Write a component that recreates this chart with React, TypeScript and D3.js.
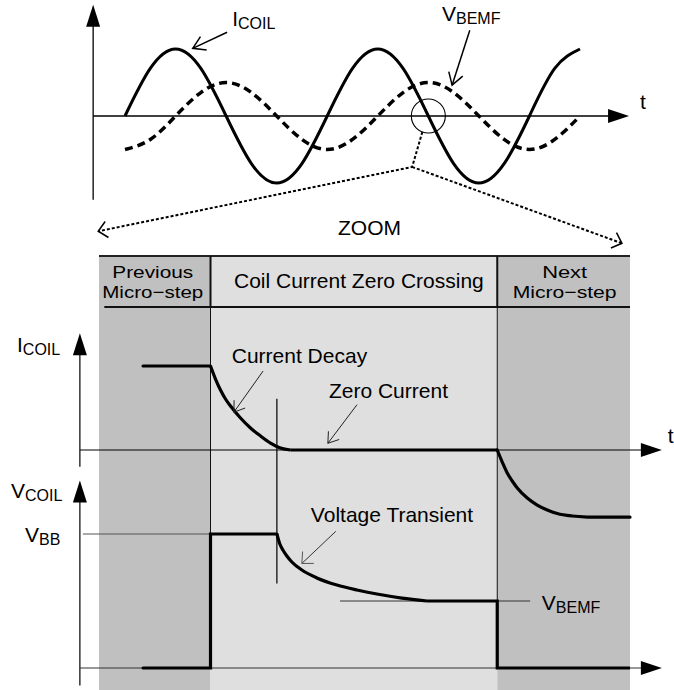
import React from 'react';
import * as d3 from 'd3';

const W = 674;
const H = 690;
const FONT = '"Liberation Sans", Arial, Helvetica, sans-serif';

// top sketch: samples every eighth of a period
const phaseSteps = [0, 0.5, 1, 1.5, 2, 2.5, 3, 3.5, 4, 4.5, 5, 5.5, 6, 6.5, 7, 7.5, 8, 8.5, 9];
const coilCurrentWave = [0, 0.71, 1, 0.71, 0, -0.71, -1, -0.71, 0, 0.71, 1, 0.71, 0, -0.71, -1, -0.71, 0, 0.71, 1];
const bemfWave = [-0.5, -0.35, 0, 0.35, 0.5, 0.35, 0, -0.35, -0.5, -0.35, 0, 0.35, 0.5, 0.35, 0, -0.35, -0.5, -0.35, 0];
const zoomPhase = 6; // zero crossing that gets zoomed

// lower sketch: time as % of the zoom window
const regionBounds = [0, 21, 75, 100];
const regionShade = ['#c0c0c0', '#dfdfdf', '#c0c0c0'];
const regionLabels = [['Previous', 'Micro\u2212step'], ['Coil Current Zero Crossing'], ['Next', 'Micro\u2212step']];

const currentBefore: [number, number][] = [[8.3, 1], [21, 1]];
const currentDecay: [number, number][] = [
  [21, 1], [21.94, 0.845], [22.88, 0.714], [23.82, 0.607], [24.77, 0.524], [26.65, 0.381],
  [28.53, 0.262], [30.42, 0.167], [32.3, 0.083], [34.18, 0.024], [36.07, 0],
];
const currentZero: [number, number][] = [[36.07, 0], [75, 0]];
const currentNext: [number, number][] = [
  [75, 0], [75.94, -0.143], [76.88, -0.274], [77.82, -0.369], [78.77, -0.452], [80.65, -0.571],
  [82.53, -0.655], [84.42, -0.714], [86.3, -0.756], [89.12, -0.786], [91.95, -0.798], [93.83, -0.8], [100, -0.8],
];

const voltageStep: [number, number][] = [[8.3, 0], [21, 0], [21, 1], [33.5, 1]];
const voltageTransient: [number, number][] = [
  [33.5, 1], [34.06, 0.925], [34.63, 0.881], [35.38, 0.836], [36.32, 0.791], [38.21, 0.731],
  [41.03, 0.672], [44.8, 0.619], [48.57, 0.582], [52.33, 0.552], [57.04, 0.522], [61.75, 0.5],
];
const voltageTail: [number, number][] = [[61.75, 0.5], [75, 0.5], [75, 0], [100, 0]];

const vbbLevel = 1;
const vbemfLevel = 0.5;
const zeroCrossTime = 33.5;

// open arrow head at (x2,y2) coming from (x1,y1)
const openHead = (x1: number, y1: number, x2: number, y2: number, len = 13, ang = 0.6) => {
  const a = Math.atan2(y1 - y2, x1 - x2);
  const p1 = [x2 + len * Math.cos(a - ang), y2 + len * Math.sin(a - ang)];
  const p2 = [x2 + len * Math.cos(a + ang), y2 + len * Math.sin(a + ang)];
  return `M${p1[0]},${p1[1]}L${x2},${y2}L${p2[0]},${p2[1]}`;
};

const upArrow = (x: number, y: number) => `M${x},${y}L${x - 7},${y + 22}L${x + 7},${y + 22}Z`;
const rightArrow = (x: number, y: number) => `M${x},${y}L${x - 21},${y - 7}L${x - 21},${y + 7}Z`;

const Sub = ({ x, y, main, sub }: { x: number; y: number; main: string; sub: string }) => (
  <text x={x} y={y} fontSize={21} fontFamily={FONT} fill="#000">
    <tspan>{main}</tspan>
    <tspan fontSize={16} dy={3}>{sub}</tspan>
  </text>
);

export default function App() {
  const topX = d3.scaleLinear().domain([0, 9]).range([125, 580]);
  const topY = d3.scaleLinear().domain([-1, 1]).range([183, 49]);
  const lowX = d3.scaleLinear().domain([0, 100]).range([99, 630]);
  const iY = d3.scaleLinear().domain([0, 1]).range([450, 366]);
  const vY = d3.scaleLinear().domain([0, 1]).range([668, 534]);

  const wave = d3
    .line<number>()
    .x((_, i) => topX(phaseSteps[i]))
    .y((d) => topY(d))
    .curve(d3.curveNatural);

  const iLine = d3.line<[number, number]>().x((d) => lowX(d[0])).y((d) => iY(d[1]));
  const iCurve = d3.line<[number, number]>().x((d) => lowX(d[0])).y((d) => iY(d[1])).curve(d3.curveMonotoneX);
  const vLine = d3.line<[number, number]>().x((d) => lowX(d[0])).y((d) => vY(d[1]));
  const vCurve = d3.line<[number, number]>().x((d) => lowX(d[0])).y((d) => vY(d[1])).curve(d3.curveMonotoneX);

  const bandTop = 256;
  const bandBottom = 307;

  // top axes
  const tAx0 = topX(-0.63);
  const tAx1 = topX(9.97);
  const tAxY = topY(0);
  const tYTop = topY(1.66);
  const tYBot = topY(-1.25);

  // zoom guide lines
  const cx = topX(zoomPhase);
  const cy = topY(0);
  const vertex = [topX(5.68), topY(-0.76)];
  const zl = [topX(-0.53), topY(-1.72)];
  const zr = [topX(9.83), topY(-1.9)];

  // lower axes
  const axL = lowX(-3.6);
  const axR = lowX(106);

  const ann = {
    icoilTop: { tx: topX(2.12), ty: topY(1.34), a: [topX(2.02), topY(1.25), topX(1.34), topY(1.01)] },
    bemfTop: { tx: topX(6.27), ty: topY(1.42), a: [topX(6.82), topY(1.28), topX(6.47), topY(0.46)] },
    decay: { tx: lowX(25), ty: iY(1.04), a: [lowX(30.9), iY(0.94), lowX(25.4), iY(0.45)] },
    zero: { tx: lowX(43.3), ty: iY(0.62), a: [lowX(48.6), iY(0.54), lowX(43.1), iY(0.08)] },
    trans: { tx: lowX(39.9), ty: vY(1.09), a: [lowX(44.6), vY(1.02), lowX(38.2), vY(0.78)] },
  };

  const arrowPath = (a: number[]) => `M${a[0]},${a[1]}L${a[2]},${a[3]}`;

  return (
    <svg
      width={W}
      height={H}
      viewBox={`0 0 ${W} ${H}`}
      style={{ position: 'absolute', left: 0, top: 0, background: '#fff' }}
      fontFamily={FONT}
    >
      {/* ---------- top sketch ---------- */}
      <line x1={tAx0} x2={tAx0} y1={tYTop + 20} y2={tYBot} stroke="#000" strokeWidth={1.3} />
      <path d={upArrow(tAx0, tYTop)} fill="#000" />
      <line x1={tAx0} x2={tAx1 - 18} y1={tAxY} y2={tAxY} stroke="#000" strokeWidth={1.3} />
      <path d={rightArrow(tAx1, tAxY)} fill="#000" />
      <text x={tAx1 + 11} y={tAxY - 7} fontSize={21}>t</text>

      <path d={wave(coilCurrentWave) ?? ''} fill="none" stroke="#000" strokeWidth={3} />
      <path d={wave(bemfWave) ?? ''} fill="none" stroke="#000" strokeWidth={3.5} strokeDasharray="8,5" />

      <circle cx={cx} cy={cy} r={17} fill="none" stroke="#000" strokeWidth={1.1} />
      <path
        d={`M${cx - 6},${cy + 16}L${vertex[0]},${vertex[1]}L${zl[0]},${zl[1]}M${vertex[0]},${vertex[1]}L${zr[0]},${zr[1]}`}
        fill="none"
        stroke="#000"
        strokeWidth={2}
        strokeDasharray="3,2"
      />
      <path d={openHead(vertex[0], vertex[1], zl[0], zl[1], 12, 0.75)} fill="none" stroke="#000" strokeWidth={1.5} />
      <path d={openHead(vertex[0], vertex[1], zr[0], zr[1], 12, 0.75)} fill="none" stroke="#000" strokeWidth={1.5} />
      <text x={338} y={235} fontSize={21}>ZOOM</text>

      <Sub x={ann.icoilTop.tx} y={ann.icoilTop.ty} main="I" sub="COIL" />
      <path d={arrowPath(ann.icoilTop.a)} stroke="#000" strokeWidth={1.5} />
      <path d={openHead(ann.icoilTop.a[0], ann.icoilTop.a[1], ann.icoilTop.a[2], ann.icoilTop.a[3], 14, 0.55)} fill="none" stroke="#000" strokeWidth={1.5} />
      <Sub x={ann.bemfTop.tx} y={ann.bemfTop.ty} main="V" sub="BEMF" />
      <path d={arrowPath(ann.bemfTop.a)} stroke="#000" strokeWidth={1.5} />
      <path d={openHead(ann.bemfTop.a[0], ann.bemfTop.a[1], ann.bemfTop.a[2], ann.bemfTop.a[3], 14, 0.55)} fill="none" stroke="#000" strokeWidth={1.5} />

      {/* ---------- lower sketch: shaded regions ---------- */}
      {regionShade.map((c, i) => (
        <rect
          key={i}
          x={lowX(regionBounds[i])}
          y={bandTop}
          width={lowX(regionBounds[i + 1]) - lowX(regionBounds[i])}
          height={H - bandTop}
          fill={c}
        />
      ))}
      <line x1={lowX(0)} x2={lowX(100)} y1={bandTop} y2={bandTop} stroke="#222" strokeWidth={2} />
      <line x1={lowX(1)} x2={lowX(100)} y1={bandBottom} y2={bandBottom} stroke="#111" strokeWidth={2} />
      {regionBounds.slice(1, 3).map((b, i) => (
        <g key={i}>
          <line x1={lowX(b)} x2={lowX(b)} y1={bandTop} y2={bandBottom} stroke="#111" strokeWidth={2} />
          <line x1={lowX(b)} x2={lowX(b)} y1={bandBottom} y2={vY(0)} stroke="#111" strokeWidth={1} />
        </g>
      ))}
      {regionLabels.map((lines, i) => {
        const mid = (lowX(regionBounds[i]) + lowX(regionBounds[i + 1])) / 2 + (i === 1 ? 5 : 0);
        if (lines.length === 1) {
          return (
            <text key={i} x={mid} y={288} fontSize={21} textAnchor="middle">{lines[0]}</text>
          );
        }
        const cxl = mid + (i === 0 ? -2 : 1);
        return (
          <g key={i}>
            <text x={cxl} y={278} fontSize={17} textAnchor="middle" textLength={i === 0 ? 81 : 45} lengthAdjust="spacingAndGlyphs">
              {lines[0]}
            </text>
            <text x={cxl} y={298} fontSize={17} textAnchor="middle" textLength={i === 0 ? 101 : 104} lengthAdjust="spacingAndGlyphs">
              {lines[1]}
            </text>
          </g>
        );
      })}

      {/* current panel axes */}
      <line x1={axL} x2={axL} y1={iY(1.39) + 20} y2={iY(-0.2)} stroke="#000" strokeWidth={1.2} />
      <path d={upArrow(axL, iY(1.39))} fill="#000" />
      <line x1={axL} x2={axR - 19} y1={iY(0)} y2={iY(0)} stroke="#000" strokeWidth={1.2} />
      <path d={rightArrow(axR, iY(0))} fill="#000" />
      <text x={axR + 6} y={iY(0) - 7} fontSize={21}>t</text>
      <Sub x={17} y={352} main="I" sub="COIL" />

      {/* voltage panel axes */}
      <line x1={axL} x2={axL} y1={vY(1.4) + 20} y2={vY(-0.13)} stroke="#000" strokeWidth={1.2} />
      <path d={upArrow(axL, vY(1.4))} fill="#000" />
      <line x1={axL} x2={axR - 19} y1={vY(0)} y2={vY(0)} stroke="#333" strokeWidth={1.2} />
      <path d={rightArrow(axR, vY(0))} fill="#000" />
      <Sub x={11} y={498} main="V" sub="COIL" />
      <Sub x={25} y={542} main="V" sub="BB" />

      {/* reference lines */}
      <line x1={axL + 3} x2={lowX(21)} y1={vY(vbbLevel)} y2={vY(vbbLevel)} stroke="#555" strokeWidth={1} />
      <line x1={lowX(45.4)} x2={lowX(81.2)} y1={vY(vbemfLevel)} y2={vY(vbemfLevel)} stroke="#333" strokeWidth={1} />
      <line x1={lowX(zeroCrossTime)} x2={lowX(zeroCrossTime)} y1={iY(0.61)} y2={vY(0.63)} stroke="#000" strokeWidth={1.2} />

      {/* traces */}
      <path d={iLine(currentBefore) ?? ''} fill="none" stroke="#000" strokeWidth={3.2} strokeLinecap="round" />
      <path d={iCurve(currentDecay) ?? ''} fill="none" stroke="#000" strokeWidth={3.2} />
      <path d={iLine(currentZero) ?? ''} fill="none" stroke="#000" strokeWidth={3.2} />
      <path d={iCurve(currentNext) ?? ''} fill="none" stroke="#000" strokeWidth={3.2} strokeLinecap="round" />
      <path d={vLine(voltageStep) ?? ''} fill="none" stroke="#000" strokeWidth={3.2} strokeLinecap="round" />
      <path d={vCurve(voltageTransient) ?? ''} fill="none" stroke="#000" strokeWidth={3.2} />
      <path d={vLine(voltageTail) ?? ''} fill="none" stroke="#000" strokeWidth={3.2} />

      {/* annotations */}
      <text x={ann.decay.tx} y={ann.decay.ty} fontSize={21}>Current Decay</text>
      <path d={arrowPath(ann.decay.a)} stroke="#222" strokeWidth={1} />
      <path d={openHead(ann.decay.a[0], ann.decay.a[1], ann.decay.a[2], ann.decay.a[3], 12, 0.6)} fill="none" stroke="#222" strokeWidth={1} />
      <text x={ann.zero.tx} y={ann.zero.ty} fontSize={21}>Zero Current</text>
      <path d={arrowPath(ann.zero.a)} stroke="#222" strokeWidth={1} />
      <path d={openHead(ann.zero.a[0], ann.zero.a[1], ann.zero.a[2], ann.zero.a[3], 12, 0.6)} fill="none" stroke="#222" strokeWidth={1} />
      <text x={ann.trans.tx} y={ann.trans.ty} fontSize={21}>Voltage Transient</text>
      <path d={arrowPath(ann.trans.a)} stroke="#333" strokeWidth={1} />
      <path d={openHead(ann.trans.a[0], ann.trans.a[1], ann.trans.a[2], ann.trans.a[3], 12, 0.75)} fill="none" stroke="#555" strokeWidth={1} />
      <Sub x={lowX(83.4)} y={vY(0.43)} main="V" sub="BEMF" />
    </svg>
  );
}
